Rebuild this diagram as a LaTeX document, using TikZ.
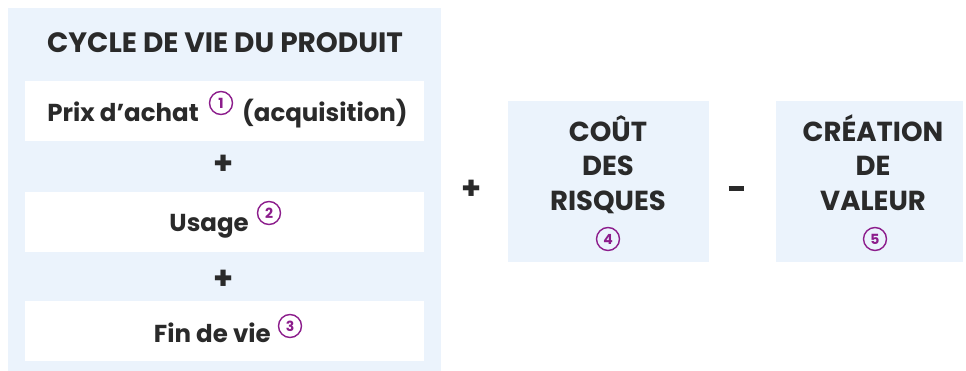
\documentclass[tikz,border=0pt]{standalone}
\usepackage{fontspec}
\setmainfont{Poppins}
\definecolor{panel}{HTML}{EBF3FC}
\definecolor{ink}{HTML}{2A2A2A}
\definecolor{purp}{HTML}{8C1D8C}
\begin{document}
\begin{tikzpicture}[x=1pt,y=-1pt,
  txt/.style={text=ink,font=\fontsize{24.5}{28}\selectfont\bfseries,inner sep=0pt},
  captxt/.style={text=ink,font=\fontsize{27.5}{30}\selectfont\bfseries,inner sep=0pt},
  op/.style={text=ink,font=\fontsize{32}{34}\selectfont\bfseries,inner sep=0pt},
  num/.style={circle,draw=purp,line width=1.4pt,text=purp,minimum size=23pt,inner sep=0pt,font=\fontsize{14}{14}\selectfont\bfseries}]
\useasboundingbox (0,0) rectangle (966,371);
\fill[panel] (8,8) rectangle (441,371);
\fill[white] (25,81) rectangle (424,141);
\fill[white] (25,192) rectangle (424,252);
\fill[white] (25,301) rectangle (424,361);
\fill[panel] (508,101) rectangle (709,262);
\fill[panel] (776,101) rectangle (963,262);
\node[captxt,anchor=base,font=\fontsize{28}{30}\selectfont\bfseries] (title) at (225,53) {CYCLE DE VIE DU PRODUIT};
\node[txt,anchor=base east] (p1a) at (199,122) {Prix d’achat};
\node[num] (c1) at (221,103) {1};
\node[txt,anchor=base west] (p1b) at (242,122) {(acquisition)};
\node[op] (plus1) at (224,165) {+};
\node[txt,anchor=base east] (p2) at (249,232) {Usage};
\node[num] (c2) at (269,213) {2};
\node[op] (plus2) at (224,280) {+};
\node[txt,anchor=base east] (p3) at (271,342) {Fin de vie};
\node[num] (c3) at (290,326) {3};
\node[op] (plus3) at (472,190) {+};
\node[inner sep=0pt] (minus) at (736,189) {\color{ink}\rule{15pt}{5pt}};
\node[captxt,anchor=base] (r1) at (608,142) {COÛT};
\node[captxt,anchor=base] (r2) at (608,176) {DES};
\node[captxt,anchor=base] (r3) at (608,211) {RISQUES};
\node[num] (c4) at (608,239) {4};
\node[captxt,anchor=base] (v1) at (873,142) {CRÉATION};
\node[captxt,anchor=base] (v2) at (873,176) {DE};
\node[captxt,anchor=base] (v3) at (873,211) {VALEUR};
\node[num] (c5) at (875,239) {5};
\end{tikzpicture}
\end{document}
